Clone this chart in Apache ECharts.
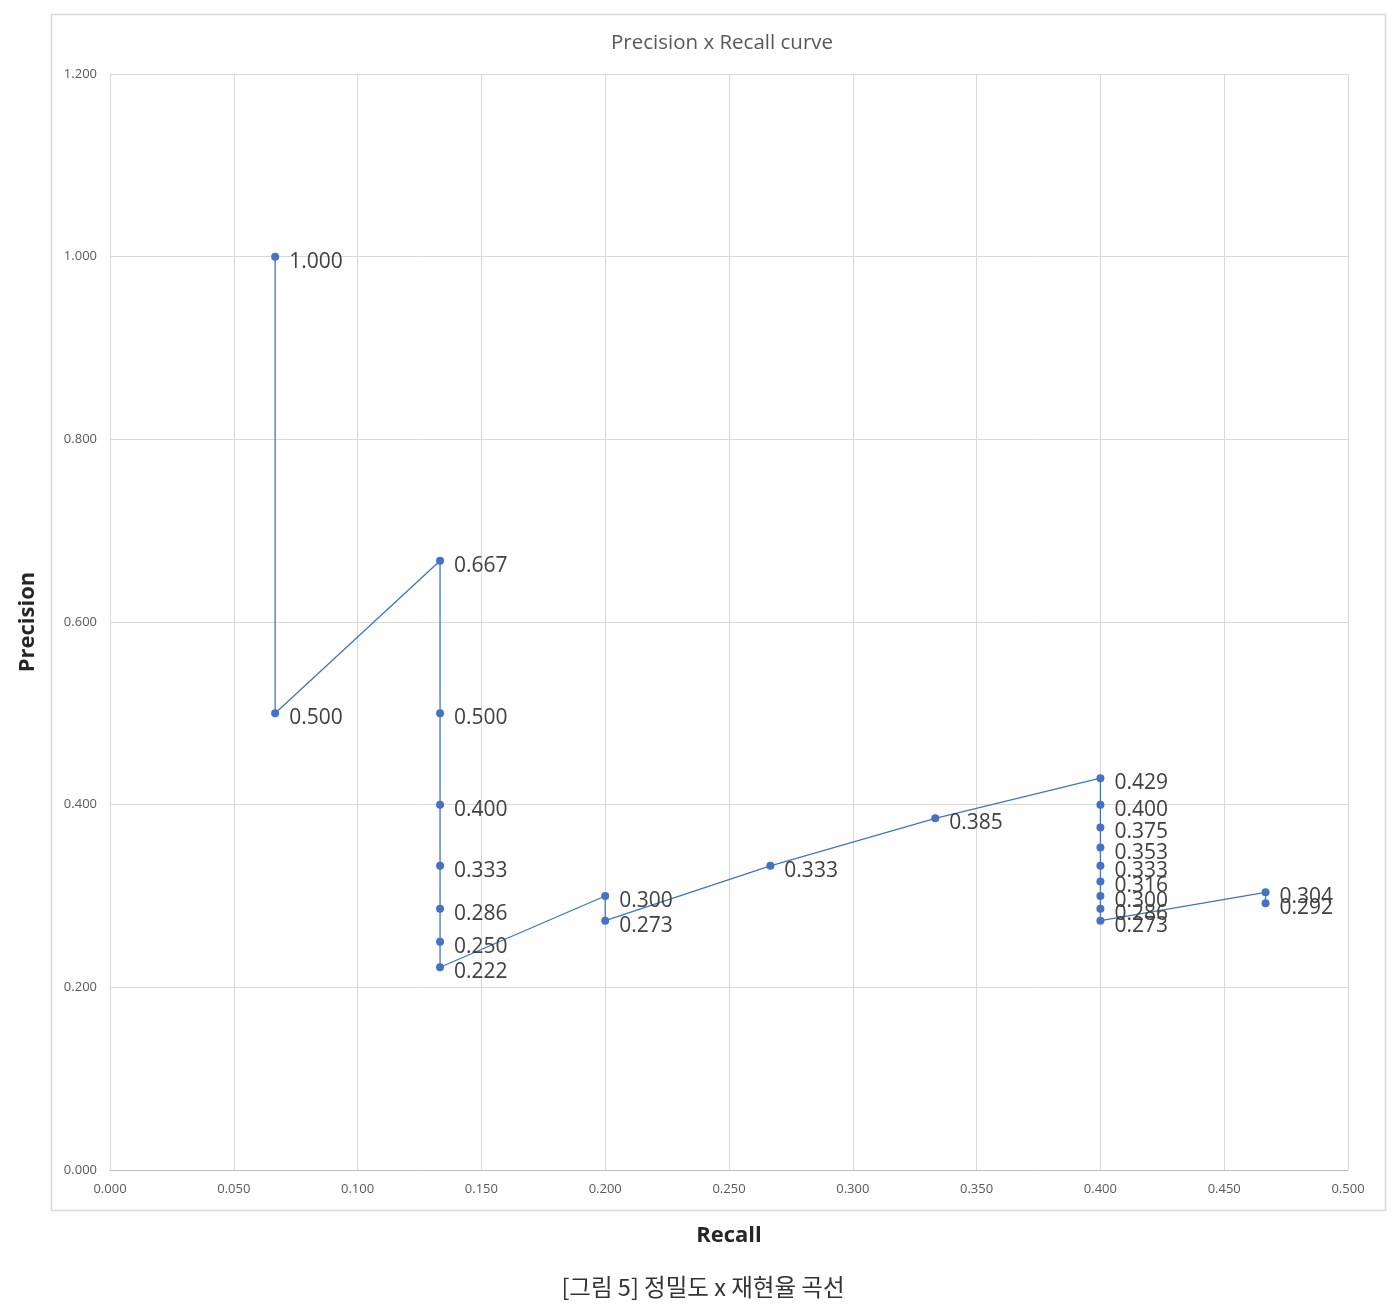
<!DOCTYPE html>
<html>
<head>
<meta charset="utf-8">
<script src="https://cdn.jsdelivr.net/npm/echarts@6/dist/echarts.min.js"></script>
<style>
html,body{margin:0;padding:0;background:#fff;}
#c{width:1400px;height:1308px;}
</style>
</head>
<body>
<div id="c"></div>
<script>
const recall = [0.0667, 0.0667, 0.1333, 0.1333, 0.1333, 0.1333, 0.1333, 0.1333, 0.1333, 0.2, 0.2, 0.2667, 0.3333, 0.4, 0.4, 0.4, 0.4, 0.4, 0.4, 0.4, 0.4, 0.4, 0.4667, 0.4667];
const precision = [1.000, 0.500, 0.667, 0.500, 0.400, 0.333, 0.286, 0.250, 0.222, 0.300, 0.273, 0.333, 0.385, 0.429, 0.400, 0.375, 0.353, 0.333, 0.316, 0.300, 0.286, 0.273, 0.304, 0.292];
const titleText = 'Precision x Recall curve';
const xName = 'Recall';
const yName = 'Precision';
const caption = '[그림 5] 정밀도 x 재현율 곡선';

const points = recall.map((r, i) => [r, precision[i]]);
const chart = echarts.init(document.getElementById('c'));
const font = 'Open Sans, Noto Sans, sans-serif';
chart.setOption({
  animation: false,
  backgroundColor: '#fff',
  title: {
    text: titleText, left: 717, top: 28, textAlign: 'center',
    textStyle: {fontFamily: font, fontSize: 20.5, fontWeight: 'normal', color: '#595959'}
  },
  grid: {left: 110, right: 52, top: 74, bottom: 138, containLabel: false},
  xAxis: {
    type: 'value', min: 0, max: 0.5, interval: 0.05,
    name: xName, nameLocation: 'middle', nameGap: 55,
    nameTextStyle: {fontFamily: font, fontSize: 22, fontWeight: 'bold', color: '#262626'},
    axisLine: {show: true, lineStyle: {color: '#bfbfbf', width: 1}},
    axisTick: {show: false},
    axisLabel: {margin: 13, fontFamily: font, fontSize: 13, color: '#595959', formatter: v => v.toFixed(3)},
    splitLine: {show: true, lineStyle: {color: '#d9d9d9', width: 1}}
  },
  yAxis: {
    type: 'value', min: 0, max: 1.2, interval: 0.2,
    name: yName, nameLocation: 'middle', nameGap: 71, nameRotate: 90,
    nameTextStyle: {fontFamily: font, fontSize: 22, fontWeight: 'bold', color: '#262626'},
    axisLine: {show: false},
    axisTick: {show: false},
    axisLabel: {margin: 13, fontFamily: font, fontSize: 13, color: '#595959', formatter: v => v.toFixed(3)},
    splitLine: {show: true, lineStyle: {color: '#d9d9d9', width: 1}}
  },
  graphic: [
    {type: 'rect', shape: {x: 51.5, y: 14.5, width: 1334, height: 1196}, style: {fill: 'none', stroke: '#d9d9d9', lineWidth: 1.5}, z: -1},
    {type: 'text', x: 703, y: 1287, style: {text: caption, fontFamily: 'Noto Sans CJK KR, sans-serif', fontSize: 23.5, fill: '#333', align: 'center', verticalAlign: 'middle'}}
  ],
  series: [{
    type: 'line',
    data: points,
    symbol: 'circle', symbolSize: 8,
    lineStyle: {color: '#4472C4', width: 1.3},
    itemStyle: {color: '#4472C4'},
    label: {
      show: true, position: 'right', distance: 10,
      fontFamily: font, fontSize: 21, color: '#404040',
      formatter: p => p.value[1].toFixed(3)
    },
    labelLayout: {hideOverlap: false, dy: 5}
  }]
});
</script>
</body>
</html>
